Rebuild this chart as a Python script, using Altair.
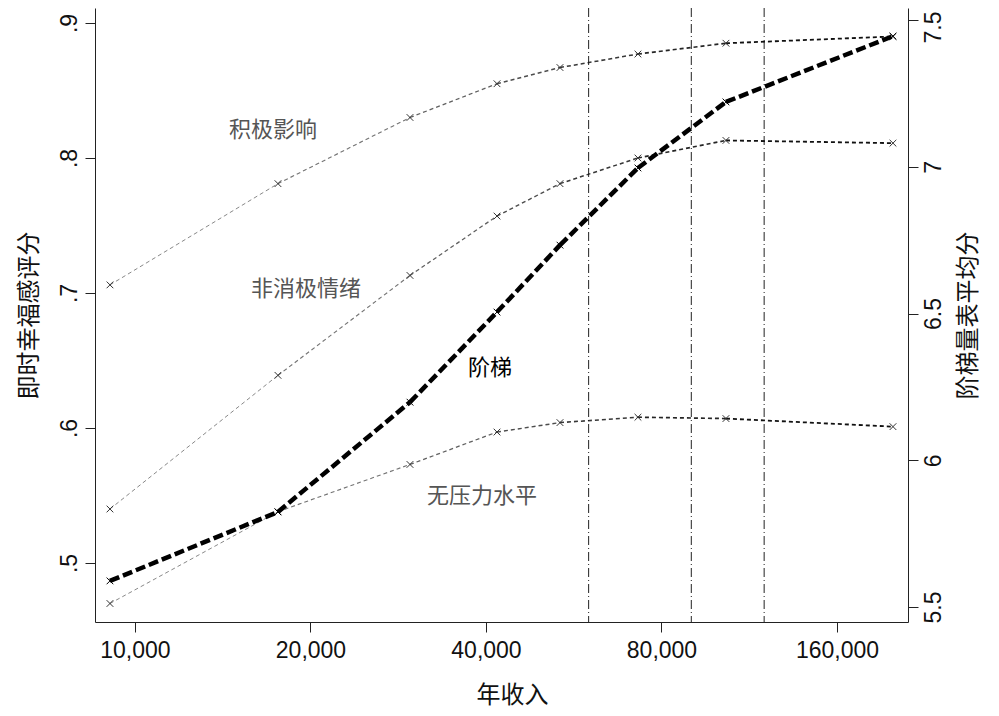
import altair as alt
import pandas as pd

# ---- data ----
income = [9060, 17590, 29630, 41780, 53580, 72900, 103200, 199600]
positive_affect = [0.706, 0.781, 0.830, 0.855, 0.867, 0.877, 0.885, 0.890]
not_blue = [0.540, 0.639, 0.713, 0.757, 0.781, 0.800, 0.813, 0.811]
stress_free = [0.470, 0.538, 0.573, 0.597, 0.604, 0.608, 0.607, 0.601]
ladder = [5.589, 5.824, 6.198, 6.505, 6.733, 6.996, 7.221, 7.445]

x_ticks = [10000, 20000, 40000, 80000, 160000]
left_ticks = [0.5, 0.6, 0.7, 0.8, 0.9]
right_ticks = [5.5, 6, 6.5, 7, 7.5]
thresholds = [60000, 90000, 120000]

label_text = ["积极影响", "非消极情绪", "无压力水平"]
label_x = [17250, 19650, 39370]
label_y = [0.821, 0.703, 0.550]
ladder_label = ["阶梯"]
ladder_label_x = [40640]
ladder_label_y = [6.314]

# ---- tables ----
def segments(name, vals):
    rows = []
    for i in range(len(vals) - 1):
        rows.append({"series": name, "x": income[i], "x2": income[i + 1],
                     "y": vals[i], "y2": vals[i + 1], "seg": i})
    return rows

left_series = {"积极影响": positive_affect, "非消极情绪": not_blue, "无压力水平": stress_free}
seg_left = pd.DataFrame([r for k, v in left_series.items() for r in segments(k, v)])
pts_left = pd.DataFrame([{"series": k, "x": income[i], "y": v[i]}
                         for k, v in left_series.items() for i in range(len(v))])
seg_right = pd.DataFrame(segments("阶梯", ladder))
pts_right = pd.DataFrame({"x": income, "y": ladder})
vl = pd.DataFrame({"x": thresholds})
lab_left = pd.DataFrame({"x": label_x, "y": label_y, "t": label_text})
lab_right = pd.DataFrame({"x": ladder_label_x, "y": ladder_label_y, "t": ladder_label})

XS = alt.Scale(type="log", domain=[8540, 211800], nice=False)
LS = alt.Scale(domain=[0.4563, 0.9111], nice=False, zero=False)
RS = alt.Scale(domain=[5.449, 7.541], nice=False, zero=False)

NUMFONT = "Liberation Sans"
CJK = "Noto Sans CJK SC"

x_axis = alt.Axis(values=x_ticks, format=",", title="年收入", grid=False,
                  tickSize=10, labelPadding=7, labelFont=NUMFONT, labelFontSize=23,
                  titleFont=CJK, titleFontSize=24, titleFontWeight="normal",
                  titleX=417, titleY=73, titleBaseline="middle", titleAlign="center",
                  domainColor="#222", tickColor="#222", labelColor="#111", titleColor="#111")

left_axis = alt.Axis(values=left_ticks, labelExpr="substring(format(datum.value, '.1f'), 1)",
                     labelAngle=-90, labelAlign="center", labelBaseline="bottom",
                     labelPadding=4, tickSize=10, grid=False,
                     labelFont=NUMFONT, labelFontSize=23,
                     title="即时幸福感评分", titleFont=CJK, titleFontSize=24,
                     titleFontWeight="normal", titleAngle=-90, titleX=-66, titleY=307,
                     titleAlign="center", titleBaseline="middle",
                     domainColor="#222", tickColor="#222", labelColor="#111", titleColor="#111")

right_axis = alt.Axis(values=right_ticks, format="~g", orient="right",
                      labelAngle=-90, labelAlign="center", labelBaseline="top",
                      labelPadding=4, tickSize=10, grid=False,
                      labelOffset={"condition": {"test": "datum.value >= 7.5", "value": 7}, "value": 0},
                      labelFont=NUMFONT, labelFontSize=23,
                      title="阶梯量表平均分", titleFont=CJK, titleFontSize=24,
                      titleFontWeight="normal", titleAngle=-90, titleX=60, titleY=307,
                      titleAlign="center", titleBaseline="middle",
                      domainColor="#222", tickColor="#222", labelColor="#111", titleColor="#111")

xenc = alt.X("x:Q", scale=XS, axis=x_axis)
yL = alt.Y("y:Q", scale=LS, axis=left_axis)
yR = alt.Y("y:Q", scale=RS, axis=right_axis)

xshape = "M-1,-1L1,1M-1,1L1,-1"

left_lines = alt.Chart(seg_left).mark_rule(strokeDash=[4, 3], color="#111").encode(
    x=xenc, x2="x2:Q", y=yL, y2="y2:Q",
    opacity=alt.Opacity("seg:Q", scale=alt.Scale(domain=[0, 6], range=[0.5, 1]), legend=None),
    strokeWidth=alt.StrokeWidth("seg:Q", scale=alt.Scale(domain=[0, 6], range=[1.0, 1.8]), legend=None),
    detail="series:N",
)
left_pts = alt.Chart(pts_left).mark_point(shape=xshape, size=45, filled=False,
                                          color="#333", strokeWidth=1, opacity=1).encode(
    x=xenc, y=yL, detail="series:N")
vrules = alt.Chart(vl).mark_rule(color="#222", strokeWidth=1, strokeDash=[9, 3, 1, 3]).encode(x=xenc)
left_labels = alt.Chart(lab_left).mark_text(font=CJK, fontSize=22, color="#555").encode(
    x=xenc, y=yL, text="t:N")

left = alt.layer(vrules, left_lines, left_pts, left_labels)

right_line = alt.Chart(seg_right).mark_rule(strokeDash=[10, 4], color="#000", strokeWidth=4.5).encode(
    x=xenc, x2="x2:Q", y=yR, y2="y2:Q")
right_pts = alt.Chart(pts_right).mark_point(shape=xshape, size=45, filled=False,
                                            color="#000", strokeWidth=1, opacity=1).encode(
    x=xenc, y=yR)
right_labels = alt.Chart(lab_right).mark_text(font=CJK, fontSize=22, color="#000").encode(
    x=xenc, y=yR, text="t:N")

right = alt.layer(right_line, right_pts, right_labels)

chart = alt.layer(left, right).resolve_scale(y="independent").properties(
    width=813, height=614,
    autosize=alt.AutoSizeParams(type="none"),
    padding={"left": 87, "top": 0, "right": 83, "bottom": 90},
    background="white",
).configure_view(stroke=None)

chart.save("out.html", embed_options={"renderer": "svg", "actions": False})
